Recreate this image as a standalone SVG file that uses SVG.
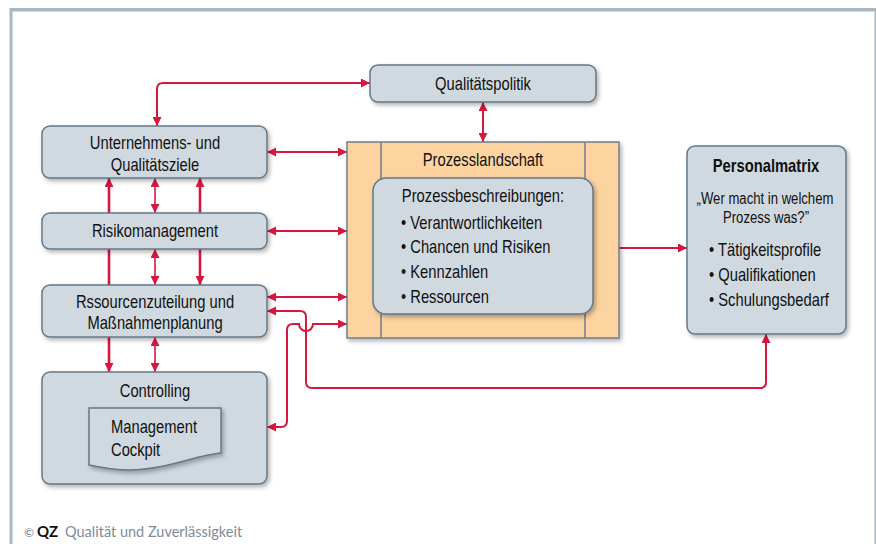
<svg xmlns="http://www.w3.org/2000/svg" width="876" height="544" viewBox="0 0 876 544">
<defs>
<style>
.t{font-family:"Liberation Sans",Arial,sans-serif;font-size:18px;fill:#111;}
.c{text-anchor:middle;}
.b{font-weight:bold;}
.box{fill:#d0d9e0;stroke:#647787;stroke-width:1.5;filter:url(#sh);}
.pl{fill:#fdd3a0;stroke:#6f7f8c;stroke-width:1.5;filter:url(#sh);}
.ln{fill:none;stroke:#d8173f;stroke-width:2;}
.th{stroke-width:2.6;}
.tn{stroke-width:1.6;}
.fr{stroke:#a8b7c2;fill:none;}
</style>
<filter id="sh" x="-10%" y="-10%" width="125%" height="130%">
<feDropShadow dx="2" dy="2.5" stdDeviation="2" flood-color="#000" flood-opacity="0.3"/>
</filter>
<marker id="ah" viewBox="0 0 10 10" refX="10" refY="5" markerWidth="9" markerHeight="9" markerUnits="userSpaceOnUse" orient="auto-start-reverse">
<path d="M0,0 L10,5 L0,10 z" fill="#d8173f"/>
</marker>
</defs>
<rect width="876" height="544" fill="#fff"/>
<g id="frame">
<line class="fr" x1="11" y1="8" x2="11" y2="544" stroke-width="3"/>
<line class="fr" x1="10" y1="9.8" x2="876" y2="9.8" stroke-width="3.5"/>
<line class="fr" x1="875.2" y1="8" x2="875.2" y2="544" stroke-width="1.5"/>
</g>
<g id="connectors">
<path class="ln" d="M370,83 H163 Q157,83 157,89 V126" marker-start="url(#ah)" marker-end="url(#ah)"/>
<path class="ln" d="M483,102 V142" marker-start="url(#ah)" marker-end="url(#ah)"/>
<path class="ln" d="M267,152 H347" marker-start="url(#ah)" marker-end="url(#ah)"/>
<path class="ln" d="M267,231 H347" marker-start="url(#ah)" marker-end="url(#ah)"/>
<path class="ln" d="M267,297 H347" marker-start="url(#ah)" marker-end="url(#ah)"/>
<path class="ln" d="M267,311 H300 Q306,311 306,317 V382 Q306,388 312,388 H760 Q766,388 766,382 V334" marker-start="url(#ah)" marker-end="url(#ah)"/>
<path class="ln" d="M267,427 H281 Q287,427 287,421 V330 Q287,324 293,324 H299 A7,7 0 0 0 313,324 H347" marker-start="url(#ah)" marker-end="url(#ah)"/>
<path class="ln" d="M619,248 H687" marker-end="url(#ah)"/>
<path class="ln th" d="M109,213 V178" marker-end="url(#ah)"/>
<path class="ln th" d="M109,249 V285"/>
<path class="ln th" d="M109,337 V372" marker-end="url(#ah)"/>
<path class="ln tn" d="M155,178 V213" marker-start="url(#ah)" marker-end="url(#ah)"/>
<path class="ln tn" d="M155,249 V285" marker-start="url(#ah)" marker-end="url(#ah)"/>
<path class="ln tn" d="M155,337 V372" marker-start="url(#ah)" marker-end="url(#ah)"/>
<path class="ln th" d="M200,213 V178" marker-end="url(#ah)"/>
<path class="ln th" d="M200,249 V285" marker-end="url(#ah)"/>
</g>
<g id="qualitaetspolitik">
<rect class="box" x="370" y="65" width="226" height="37" rx="8"/>
<text class="t c" transform="translate(483,90) scale(0.82,1)">Qualitätspolitik</text>
</g>
<g id="ziele">
<rect class="box" x="42" y="126" width="225" height="52" rx="8"/>
<text class="t c" transform="translate(155,149) scale(0.82,1)">Unternehmens- und</text>
<text class="t c" transform="translate(155,171) scale(0.82,1)">Qualitätsziele</text>
</g>
<g id="risikomanagement">
<rect class="box" x="42" y="213" width="225" height="36" rx="8"/>
<text class="t c" transform="translate(155,237) scale(0.82,1)">Risikomanagement</text>
</g>
<g id="ressourcen">
<rect class="box" x="42" y="285" width="225" height="52" rx="8"/>
<text class="t c" transform="translate(155,308) scale(0.82,1)">Rssourcenzuteilung und</text>
<text class="t c" transform="translate(155,329) scale(0.82,1)">Maßnahmenplanung</text>
</g>
<g id="controlling">
<rect class="box" x="42" y="372" width="225" height="112" rx="8"/>
<text class="t c" transform="translate(155,397) scale(0.82,1)">Controlling</text>
<path class="box" d="M89,408 H221 V453 C196,455 165,470 130,470 C112,470 98,467 89,465 Z"/>
<text class="t" transform="translate(111,433) scale(0.82,1)">Management</text>
<text class="t" transform="translate(111,456) scale(0.82,1)">Cockpit</text>
</g>
<g id="prozesslandschaft">
<rect class="pl" x="347" y="142" width="272" height="196"/>
<line x1="381" y1="142" x2="381" y2="338" stroke="#6f7f8c" stroke-width="1.5"/>
<line x1="585" y1="142" x2="585" y2="338" stroke="#6f7f8c" stroke-width="1.5"/>
<text class="t c" transform="translate(483,166) scale(0.82,1)">Prozesslandschaft</text>
<rect class="box" x="373" y="178" width="220" height="136" rx="13"/>
<text class="t c" transform="translate(483,202) scale(0.82,1)">Prozessbeschreibungen:</text>
<text class="t" transform="translate(401,229) scale(0.82,1)">• Verantwortlichkeiten</text>
<text class="t" transform="translate(401,253) scale(0.82,1)">• Chancen und Risiken</text>
<text class="t" transform="translate(401,278) scale(0.82,1)">• Kennzahlen</text>
<text class="t" transform="translate(401,303) scale(0.82,1)">• Ressourcen</text>
</g>
<g id="personalmatrix">
<rect class="box" x="687" y="146" width="159" height="188" rx="8"/>
<text class="t c b" transform="translate(766,172) scale(0.82,1)">Personalmatrix</text>
<text class="t c" transform="translate(765,204) scale(0.82,1)" style="font-size:16px">„Wer macht in welchem</text>
<text class="t c" transform="translate(766,223) scale(0.82,1)" style="font-size:16px">Prozess was?”</text>
<text class="t" transform="translate(709,256) scale(0.82,1)">• Tätigkeitsprofile</text>
<text class="t" transform="translate(709,281) scale(0.82,1)">• Qualifikationen</text>
<text class="t" transform="translate(709,306) scale(0.82,1)">• Schulungsbedarf</text>
</g>
<g id="footer">
<text x="24" y="537" style="font-family:Lato,sans-serif;font-size:12px;fill:#6b7a86">©</text>
<text x="37" y="537" style="font-family:Lato,sans-serif;font-size:15px;font-weight:bold;fill:#111">QZ</text>
<text x="65" y="537" style="font-family:Lato,sans-serif;font-size:14.5px;fill:#7d8c98">Qualität und Zuverlässigkeit</text>
</g>
</svg>
